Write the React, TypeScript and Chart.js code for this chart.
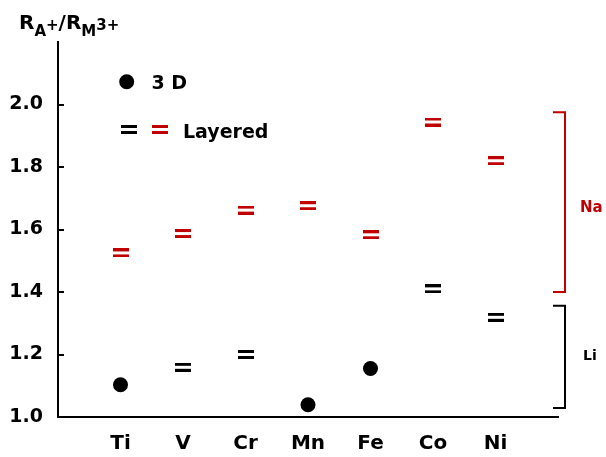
import React, { useEffect, useRef } from "react";
import { Chart, registerables } from "chart.js";

Chart.register(...registerables);

const categories = ["Ti", "V", "Cr", "Mn", "Fe", "Co", "Ni"];
const naLayered = [1.525, 1.587, 1.662, 1.676, 1.583, 1.944, 1.82];
const liLayered = [null, 1.159, 1.2, null, null, 1.41, 1.319];
const threeD = [1.103, null, null, 1.039, 1.155, null, null];
const yTicks = [1.0, 1.2, 1.4, 1.6, 1.8, 2.0];
const yMin = 1.0;
const yMax = 2.2;
const xMin = 0;
const xMax = 8;
const naBracket = [1.4, 1.975];
const naLabelValue = 1.67;
const liBracket = [1.029, 1.356];
const liLabelValue = 1.193;

const RED = "#C00000";
const BLACK = "#000000";
const FONT = "'DejaVu Sans', sans-serif";

function makeEqual(color: string): HTMLCanvasElement {
  const c = document.createElement("canvas");
  c.width = 16;
  c.height = 9;
  const g = c.getContext("2d")!;
  g.fillStyle = color;
  g.fillRect(0, 0, 16, 3);
  g.fillRect(0, 6, 16, 3);
  return c;
}

function toPoints(arr: (number | null)[]) {
  const out: { x: number; y: number }[] = [];
  arr.forEach((v, i) => {
    if (v !== null) out.push({ x: i + 1, y: v });
  });
  return out;
}

export default function App() {
  const ref = useRef<HTMLCanvasElement>(null);

  useEffect(() => {
    const canvas = ref.current!;
    const redEq = makeEqual(RED);
    const blackEq = makeEqual(BLACK);

    const decor = {
      id: "decor",
      afterDraw(chart: any) {
        const ctx = chart.ctx;
        const ys = chart.scales.y;
        const area = chart.chartArea;
        ctx.save();
        // inner tick marks
        ctx.strokeStyle = BLACK;
        ctx.lineWidth = 2;
        yTicks.forEach((t) => {
          if (t === yMin) return;
          const py = Math.round(ys.getPixelForValue(t));
          ctx.beginPath();
          ctx.moveTo(area.left, py);
          ctx.lineTo(area.left + 6, py);
          ctx.stroke();
        });

        // title
        ctx.fillStyle = BLACK;
        ctx.textBaseline = "alphabetic";
        ctx.textAlign = "left";
        let x = 19;
        const parts: [string, number, number][] = [
          ["R", 20, 29],
          ["A", 15, 36],
          ["+", 15, 30],
          ["/", 20, 29],
          ["R", 20, 29],
          ["M", 15, 36],
          ["3+", 15, 30],
        ];
        parts.forEach(([t, s, b]) => {
          ctx.font = `bold ${s}px ${FONT}`;
          ctx.fillText(t, x, b);
          x += ctx.measureText(t).width;
        });

        // legend
        ctx.beginPath();
        ctx.arc(126.7, 81.7, 7.5, 0, Math.PI * 2);
        ctx.fill();
        ctx.font = `bold 19px ${FONT}`;
        ctx.fillText("3 D", 151.5, 89);
        ctx.drawImage(blackEq, 121, 125);
        ctx.drawImage(redEq, 152, 125);
        ctx.fillText("Layered", 183, 137.5);

        // brackets
        const bx = area.right + 7;
        const drawBracket = (range: number[], color: string) => {
          const y1 = ys.getPixelForValue(range[1]);
          const y2 = ys.getPixelForValue(range[0]);
          ctx.strokeStyle = color;
          ctx.lineWidth = 2;
          ctx.beginPath();
          ctx.moveTo(bx - 12, y1);
          ctx.lineTo(bx, y1);
          ctx.lineTo(bx, y2);
          ctx.lineTo(bx - 12, y2);
          ctx.stroke();
        };
        drawBracket(naBracket, RED);
        drawBracket(liBracket, BLACK);
        ctx.textBaseline = "middle";
        ctx.fillStyle = RED;
        ctx.font = `bold 15px ${FONT}`;
        ctx.fillText("Na", bx + 15, ys.getPixelForValue(naLabelValue));
        ctx.fillStyle = BLACK;
        ctx.font = `bold 14px ${FONT}`;
        ctx.fillText("Li", bx + 18, ys.getPixelForValue(liLabelValue));
        ctx.restore();
      },
    };

    const chart = new Chart(canvas, {
      type: "scatter",
      data: {
        datasets: [
          {
            label: "Na layered",
            data: toPoints(naLayered),
            pointStyle: redEq as any,
            pointRadius: 8,
          },
          {
            label: "Li layered",
            data: toPoints(liLayered),
            pointStyle: blackEq as any,
            pointRadius: 8,
          },
          {
            label: "3 D",
            data: toPoints(threeD),
            pointStyle: "circle",
            pointRadius: 7.5,
            backgroundColor: BLACK,
            borderColor: BLACK,
            borderWidth: 0,
          },
        ],
      },
      options: {
        animation: false,
        responsive: false,
        layout: { padding: { left: 0, top: 42, right: 48, bottom: 0 } },
        plugins: {
          legend: { display: false },
          tooltip: { enabled: false },
        },
        scales: {
          x: {
            type: "linear",
            min: xMin,
            max: xMax,
            grid: { display: false, drawTicks: false },
            border: { display: true, color: BLACK, width: 2 },
            afterBuildTicks: (s: any) => {
              s.ticks = categories.map((_, i) => ({ value: i + 1 }));
            },
            afterFit: (s: any) => {
              s.height = 40;
            },
            ticks: {
              autoSkip: false,
              maxRotation: 0,
              padding: 15,
              color: BLACK,
              font: { family: FONT, size: 20, weight: "bold" },
              callback: (v: any) => categories[Math.round(v) - 1] ?? "",
            },
          },
          y: {
            type: "linear",
            min: yMin,
            max: yMax,
            grid: { display: false, drawTicks: false },
            border: { display: true, color: BLACK, width: 2 },
            afterBuildTicks: (s: any) => {
              s.ticks = yTicks.map((v) => ({ value: v }));
            },
            afterFit: (s: any) => {
              s.width = 58;
            },
            ticks: {
              padding: 15,
              color: BLACK,
              font: { family: FONT, size: 19, weight: "bold" },
              callback: (v: any) => Number(v).toFixed(1),
            },
          },
        },
      },
      plugins: [decor],
    });
    return () => chart.destroy();
  }, []);

  return (
    <div style={{ position: "fixed", left: 0, top: 0, width: 606, height: 457, background: "#fff" }}>
      <canvas ref={ref} width={606} height={457} style={{ display: "block" }} />
    </div>
  );
}
